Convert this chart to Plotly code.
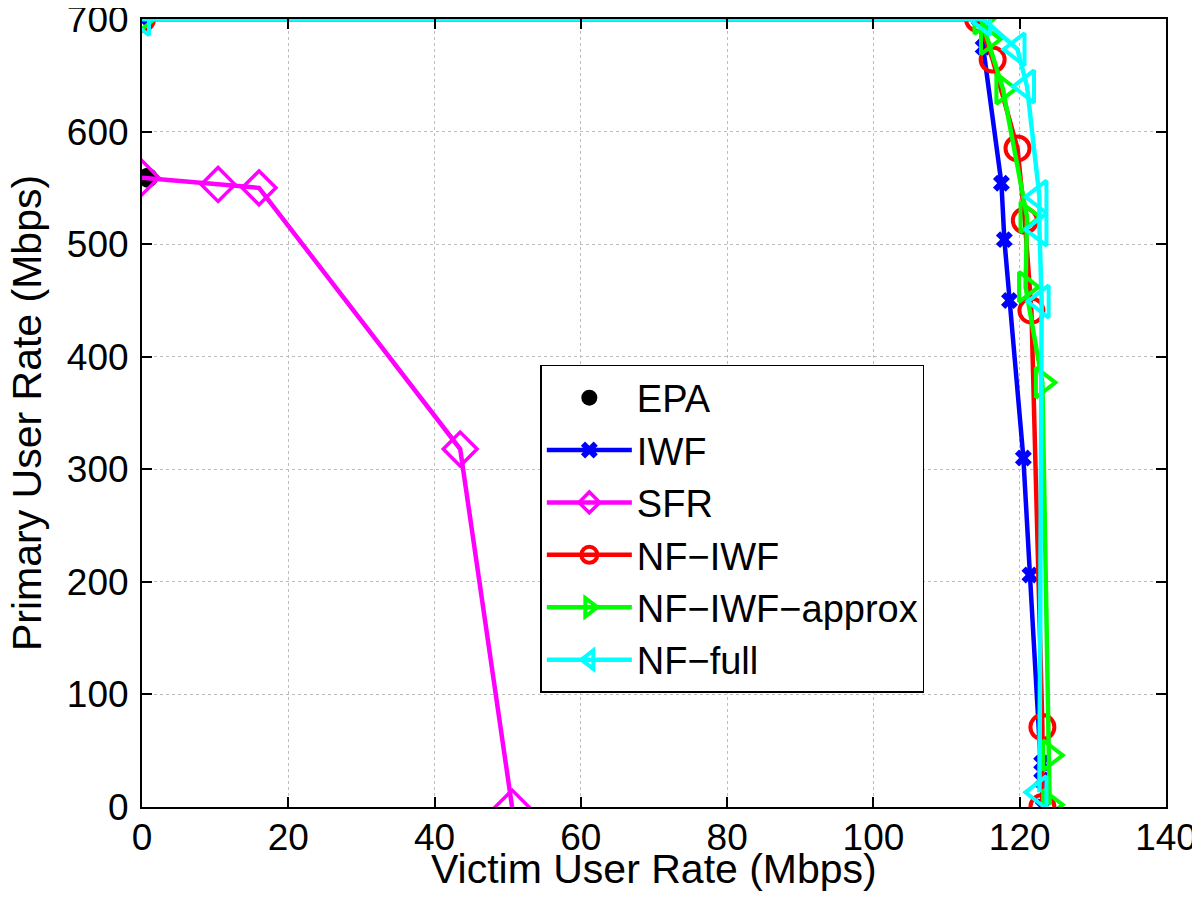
import plotly.graph_objects as go

# ---- data ----
epa_x = [0.8]
epa_y = [559]

iwf_x = [0, 114.5, 115.0, 117.5, 117.9, 118.6, 120.5, 121.4, 123.0, 123.0, 123.2]
iwf_y = [700, 700, 675, 554, 504, 450, 310, 206, 39, 24, 0]

sfr_x = [0, 10.4, 16.0, 43.5, 50.6]
sfr_y = [559, 553, 550, 318, 0]

nfiwf_x = [0, 114.3, 116.3, 119.7, 120.7, 121.6, 123.1, 123.1]
nfiwf_y = [700, 700, 664, 585, 521, 441, 71, 0]

nfapx_x = [0, 114.7, 115.6, 117.7, 121.0, 120.8, 123.1, 124.1, 124.1]
nfapx_y = [700, 700, 682, 638, 524, 462, 377, 46, 2]

nffull_x = [0, 115.0, 119.7, 121.0, 122.7, 122.7, 123.0, 122.7]
nffull_y = [700, 700, 673, 640, 542, 513, 449, 13]

x_ticks = [0, 20, 40, 60, 80, 100, 120, 140]
y_ticks = [0, 100, 200, 300, 400, 500, 600, 700]

FONT = "Liberation Sans, Arial, Helvetica, sans-serif"

fig = go.Figure()

fig.add_trace(go.Scatter(x=epa_x, y=epa_y, mode="markers", name="EPA",
                         marker=dict(symbol="circle", size=20, color="black")))
fig.add_trace(go.Scatter(x=iwf_x, y=iwf_y, mode="lines+markers", name="IWF",
                         line=dict(color="#0000FF", width=4.5),
                         marker=dict(symbol="x", size=15, color="#0000FF",
                                     line=dict(width=0))))
fig.add_trace(go.Scatter(x=sfr_x, y=sfr_y, mode="lines+markers", name="SFR",
                         line=dict(color="#FF00FF", width=4.5),
                         marker=dict(symbol="diamond-open", size=26, color="#FF00FF",
                                     line=dict(width=3.5, color="#FF00FF"))))
fig.add_trace(go.Scatter(x=nfiwf_x, y=nfiwf_y, mode="lines+markers", name="NF\u2212IWF",
                         line=dict(color="#FF0000", width=4.5),
                         marker=dict(symbol="circle-open", size=24, color="#FF0000",
                                     line=dict(width=4, color="#FF0000"))))
fig.add_trace(go.Scatter(x=nfapx_x, y=nfapx_y, mode="lines+markers", name="NF\u2212IWF\u2212approx",
                         line=dict(color="#00FF00", width=4.5),
                         marker=dict(symbol="triangle-right-open", size=26, color="#00FF00",
                                     line=dict(width=4, color="#00FF00"))))
fig.add_trace(go.Scatter(x=nffull_x, y=nffull_y, mode="lines+markers", name="NF\u2212full",
                         line=dict(color="#00FFFF", width=4.5),
                         marker=dict(symbol="triangle-left-open", size=28, color="#00FFFF",
                                     line=dict(width=4, color="#00FFFF"))))

axis_common = dict(
    showgrid=True, gridcolor="#bdbdbd", griddash="dot", gridwidth=1,
    zeroline=False, showline=True, linecolor="black", linewidth=2,
    mirror="ticks", ticks="inside", ticklen=10, tickwidth=2, tickcolor="black",
    tickfont=dict(family=FONT, size=37, color="black"),
    automargin=False, ticklabeloverflow="allow",
)

fig.update_layout(
    width=1192, height=906,
    paper_bgcolor="white", plot_bgcolor="white",
    margin=dict(l=134, r=34, t=11, b=107),
    font=dict(family=FONT, color="black"),
    xaxis=dict(range=[0, 140], tickvals=x_ticks, ticktext=[str(v) for v in x_ticks],
               ticklabelstandoff=-3,
               **axis_common),
    yaxis=dict(range=[0, 700], tickvals=y_ticks, ticktext=[str(v) for v in y_ticks],
               ticklabelstandoff=4,
               **axis_common),
    legend=dict(x=0.389, y=0.561, xanchor="left", yanchor="top",
                bgcolor="white", bordercolor="black", borderwidth=1.5,
                font=dict(family=FONT, size=38, color="black"),
                itemwidth=85, tracegroupgap=0),
    showlegend=True,
    annotations=[
        dict(text="Victim User Rate (Mbps)", xref="paper", yref="paper",
             x=0.5, y=0, xanchor="center", yanchor="middle", yshift=-62,
             showarrow=False, font=dict(family=FONT, size=41, color="black")),
        dict(text="Primary User Rate (Mbps)", xref="paper", yref="paper",
             x=0, y=0.5, xanchor="center", yanchor="middle", xshift=-115,
             textangle=-90, showarrow=False,
             font=dict(family=FONT, size=41, color="black")),
    ],
)

fig.write_html("out.html")
